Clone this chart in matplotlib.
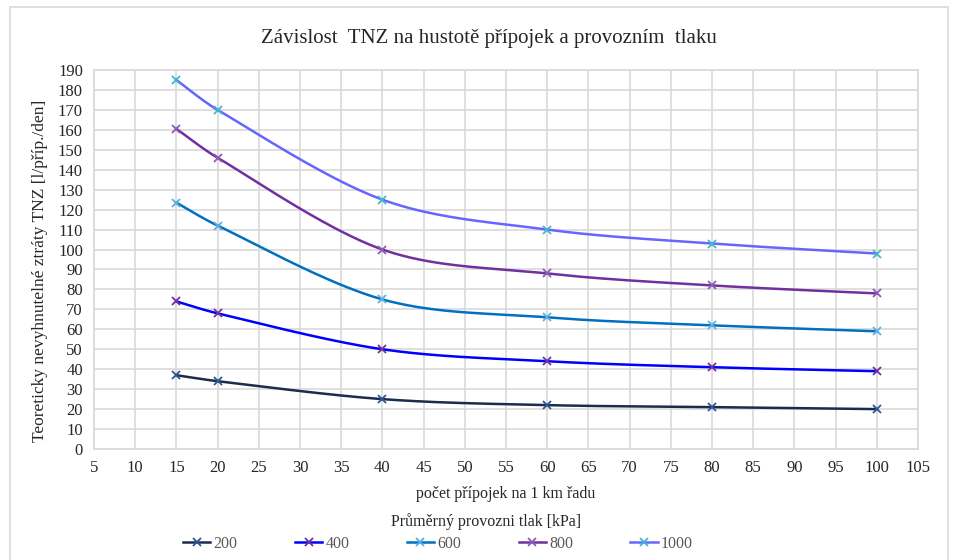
import numpy as np
import matplotlib
matplotlib.use("Agg")
import matplotlib.pyplot as plt
from matplotlib.patches import Rectangle

plt.rcParams['font.family'] = ['Liberation Serif', 'DejaVu Serif']

# data
hustota = [15, 20, 40, 60, 80, 100]
tlaky = ['200', '400', '600', '800', '1000']
tnz_200 = [37, 34, 25, 22, 21, 20]
tnz_400 = [74, 68, 50, 44, 41, 39]
tnz_600 = [123.5, 112, 75, 66, 62, 59]
tnz_800 = [160.5, 146, 100, 88, 82, 78]
tnz_1000 = [185, 170, 125, 110, 103, 98]
serie = [tnz_200, tnz_400, tnz_600, tnz_800, tnz_1000]

line_colors = ['#1c2c4c', '#0000ff', '#0070c0', '#7030a0', '#6666ff']
marker_colors = ['#2f5597', '#7030a0', '#5bb0e0', '#8c5cb0', '#45b5cc']


def excel_smooth(ax, x, y, n=40):
    # Bezier spline like Excel "smoothed line", done in pixel space,
    # control arms capped to a third of the segment
    P = ax.transData.transform(np.column_stack([x, y]))
    m = len(P)
    T = np.zeros_like(P)
    for i in range(m):
        a = P[max(i - 1, 0)]
        b = P[min(i + 1, m - 1)]
        T[i] = (b - a) / 6
    t = np.linspace(0, 1, n)[:, None]
    out = []
    for i in range(m - 1):
        p0, p3 = P[i], P[i + 1]
        L = np.hypot(*(p3 - p0)) / 3
        a1, a2 = T[i].copy(), T[i + 1].copy()
        for a in (a1, a2):
            la = np.hypot(*a)
            if la > L:
                a *= L / la
        c1 = p0 + a1
        c2 = p3 - a2
        b = (1 - t) ** 3 * p0 + 3 * (1 - t) ** 2 * t * c1 + 3 * (1 - t) * t ** 2 * c2 + t ** 3 * p3
        out.append(b)
    out = ax.transData.inverted().transform(np.vstack(out))
    return out[:, 0], out[:, 1]


fig = plt.figure(figsize=(9.62, 5.6), dpi=100)
ax = fig.add_axes([94 / 962, 1 - 449 / 560, (918 - 94) / 962, (449 - 70) / 560])
ax.set_xlim(5, 105)
ax.set_ylim(0, 190)

# chart border
fig.patches.append(Rectangle((10 / 962, -0.1), 938 / 962, 1 - 7 / 560 + 0.1,
                             transform=fig.transFigure, fill=False,
                             edgecolor='#d9d9d9', lw=1.2))

handles = []
for vals, name, lc, mc in zip(serie, tlaky, line_colors, marker_colors):
    sx, sy = excel_smooth(ax, hustota, vals)
    ax.plot(sx, sy, color=lc, lw=1.8, zorder=3)
    ax.plot(hustota, vals, ls='none', marker='x', ms=6, mew=1.3, color=mc, zorder=4)
    h, = ax.plot([], [], color=lc, lw=1.8, marker='x', ms=6, mew=1.3,
                 mec=mc, label=name)
    handles.append(h)

ax.set_xlim(5, 105)
ax.set_ylim(0, 190)
ax.set_xticks(np.arange(5, 106, 5))
ax.set_yticks(np.arange(0, 191, 10))
ax.grid(True, color='#d9d9d9', lw=1.2)
ax.set_axisbelow(True)
for s in ax.spines.values():
    s.set_color('#d9d9d9')
    s.set_linewidth(1.2)
ax.tick_params(length=0, labelsize=12, colors='#262626', pad=8)

ax.set_xlabel('počet přípojek na 1 km řadu', fontsize=11.5, color='#262626', labelpad=7)
ax.set_ylabel('Teoreticky nevyhnutelné ztráty TNZ [l/příp./den]', fontsize=12.5,
              color='#262626')
ax.yaxis.set_label_coords(-0.056, 0.47)
fig.text(489 / 962, 1 - 38 / 560, 'Závislost  TNZ na hustotě přípojek a provozním  tlaku',
         ha='center', va='center', fontsize=15, color='#262626')

fig.text(486 / 962, 1 - 522 / 560, 'Průměrný provozni tlak [kPa]',
         ha='center', va='center', fontsize=11.5, color='#262626')
leg = fig.legend(handles=handles, loc='center', bbox_to_anchor=(438 / 962, 1 - 544 / 560),
                 ncol=5, frameon=False, fontsize=11.5, columnspacing=3.6,
                 handlelength=1.7, handletextpad=0.2, borderpad=0)
for t in leg.get_texts():
    t.set_color('#595959')

fig.savefig('out.png', dpi=100)
